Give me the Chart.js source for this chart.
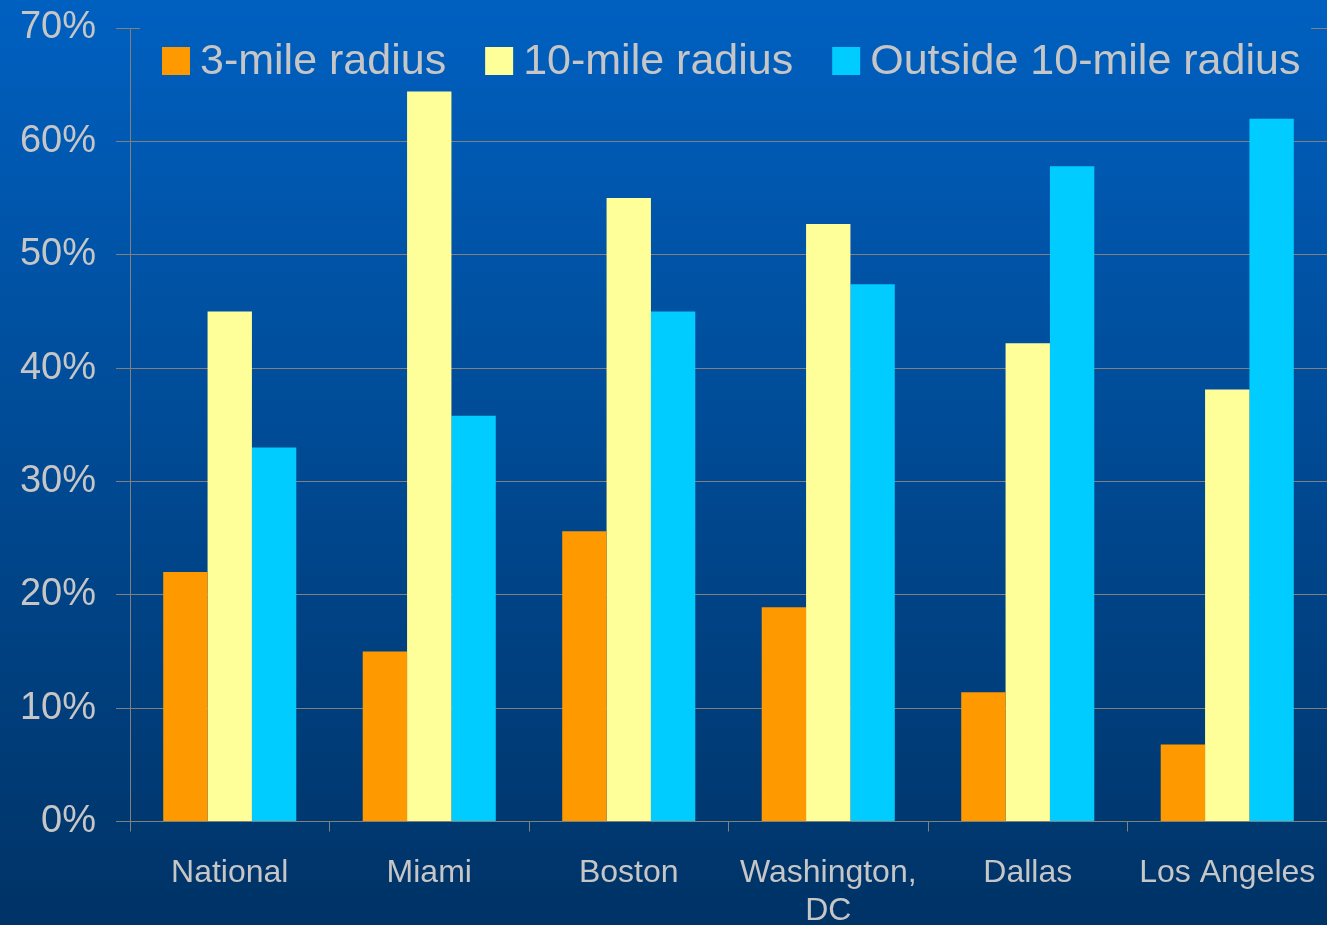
<!DOCTYPE html>
<html>
<head>
<meta charset="utf-8">
<title>Distance by market</title>
<script src="https://cdn.jsdelivr.net/npm/chart.js@4"></script>
<style>
  html, body { margin: 0; padding: 0; background: #003366; }
  #wrap { width: 1327px; height: 925px; }
</style>
</head>
<body>
<div id="wrap"><canvas id="chart" width="1327" height="925"></canvas></div>
<script>
// Market categories (multi-line labels as arrays)
const categories = ['National', 'Miami', 'Boston', ['Washington,', 'DC'], 'Dallas', 'Los Angeles'];

// Share of respondents by distance band, in percent
const seriesNames = ['3-mile radius', '10-mile radius', 'Outside 10-mile radius'];
const within3Miles = [22.0, 15.0, 25.6, 18.9, 11.4, 6.8];
const within10Miles = [45.0, 64.4, 55.0, 52.7, 42.2, 38.1];
const outside10Miles = [33.0, 35.8, 45.0, 47.4, 57.8, 62.0];

// Y axis range and step
const yMin = 0;
const yMax = 70;
const yStep = 10;

const seriesColors = ['#FF9900', '#FFFF99', '#00CCFF'];
const textColor = '#C6C6C6';
const lineColor = '#808080';
const fontFamily = '"Liberation Sans", Arial, Helvetica, sans-serif';

function backgroundGradient(ctx, height) {
  const g = ctx.createLinearGradient(0, 0, 0, height);
  g.addColorStop(0, '#0060C0');
  g.addColorStop(1, '#003366');
  return g;
}

// Paints the blue gradient behind everything
const backdrop = {
  id: 'backdrop',
  beforeDraw(chart) {
    const { ctx, width, height } = chart;
    ctx.save();
    ctx.fillStyle = backgroundGradient(ctx, height);
    ctx.fillRect(0, 0, width, height);
    ctx.restore();
  }
};

// Legend drawn inside the plot, on a panel that hides the top gridline
const insetLegend = {
  id: 'insetLegend',
  afterDraw(chart) {
    const { ctx, height } = chart;
    const o = chart.options.plugins.insetLegend;
    ctx.save();
    ctx.fillStyle = backgroundGradient(ctx, height);
    ctx.fillRect(o.panelLeft, o.panelTop, o.panelRight - o.panelLeft, o.panelBottom - o.panelTop);
    ctx.font = o.fontSize + 'px ' + fontFamily;
    ctx.textBaseline = 'alphabetic';
    ctx.textAlign = 'left';
    let x = o.startX;
    chart.data.datasets.forEach(ds => {
      ctx.fillStyle = ds.backgroundColor;
      ctx.fillRect(x, o.boxTop, o.boxSize, o.boxSize);
      x += o.boxSize + o.textGap;
      ctx.fillStyle = textColor;
      ctx.fillText(ds.label, x, o.baseline);
      x += ctx.measureText(ds.label).width + o.itemGap;
    });
    ctx.restore();
  }
};

const seriesData = [within3Miles, within10Miles, outside10Miles];

new Chart(document.getElementById('chart'), {
  type: 'bar',
  data: {
    labels: categories,
    datasets: seriesNames.map((name, i) => ({
      label: name,
      data: seriesData[i],
      backgroundColor: seriesColors[i],
      borderWidth: 0,
      categoryPercentage: 0.667,
      barPercentage: 1.0
    }))
  },
  options: {
    responsive: false,
    animation: false,
    devicePixelRatio: 1,
    layout: { padding: { top: 28, left: 0, right: 0, bottom: 0 } },
    plugins: {
      legend: { display: false },
      tooltip: { enabled: false },
      insetLegend: {
        panelLeft: 140, panelRight: 1311, panelTop: 20, panelBottom: 86,
        startX: 162, boxTop: 47, boxSize: 28, textGap: 10, itemGap: 39,
        baseline: 74, fontSize: 43
      }
    },
    scales: {
      x: {
        offset: true,
        afterFit(scale) {
          scale.height = 103.5;
          scale.paddingLeft = 0;
          scale.paddingRight = 0;
        },
        grid: {
          offset: true,
          drawOnChartArea: false,
          drawTicks: true,
          tickLength: 10,
          color: lineColor,
          lineWidth: 1
        },
        border: { display: true, color: lineColor, width: 1 },
        ticks: {
          color: textColor,
          padding: 22,
          maxRotation: 0,
          autoSkip: false,
          font: { family: fontFamily, size: 32, lineHeight: 1.2 }
        }
      },
      y: {
        min: yMin,
        max: yMax,
        afterFit(scale) {
          scale.width = 130;
          scale.paddingTop = 0;
          scale.paddingBottom = 0;
        },
        grid: {
          drawOnChartArea: true,
          drawTicks: true,
          tickLength: 14,
          color: lineColor,
          lineWidth: 1
        },
        border: { display: true, color: lineColor, width: 1 },
        ticks: {
          stepSize: yStep,
          color: textColor,
          padding: 20,
          font: { family: fontFamily, size: 38 },
          callback: v => v + '%'
        }
      }
    }
  },
  plugins: [backdrop, insetLegend]
});
</script>
</body>
</html>
